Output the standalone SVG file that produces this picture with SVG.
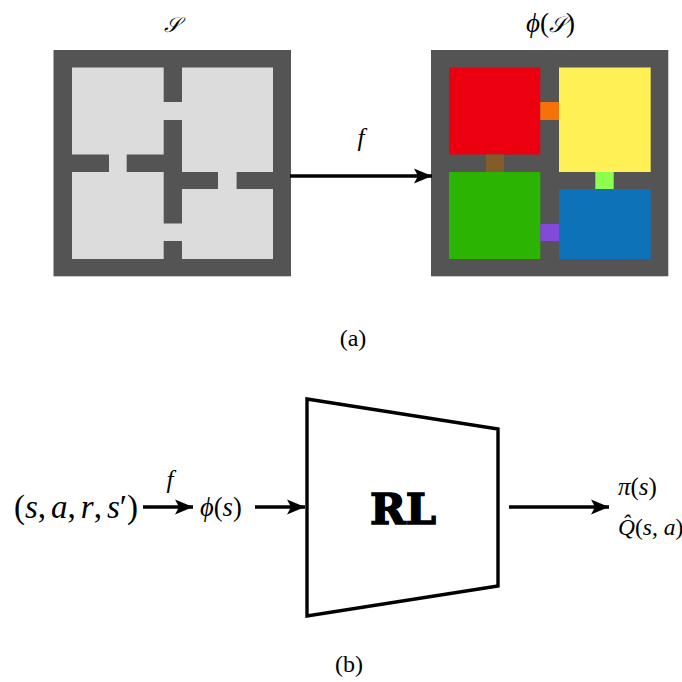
<svg xmlns="http://www.w3.org/2000/svg" width="682" height="682" viewBox="0 0 682 682">
<defs>
<marker id="ah" markerUnits="userSpaceOnUse" markerWidth="20" markerHeight="16" refX="18" refY="8" orient="auto"><path d="M0,0.5 L18,8 L0,15.5 L4,8 Z" fill="#000"/></marker>
</defs>
<style>
.w{fill:#545454}.r{fill:#dcdcdc}
.t{font-family:"Liberation Serif","Times New Roman",serif;fill:#000}
.i{font-style:italic}
.c{stroke:#000;stroke-width:3.4;fill:none}
</style>
<rect width="682" height="682" fill="#fff"/>
<g id="grid-s">
<rect class="w" x="53.5" y="50" width="237.5" height="226.3"/>
<rect class="r" x="72" y="67.5" width="201" height="191.5"/>
<rect class="w" x="163.7" y="67" width="18.3" height="35"/>
<rect class="w" x="163.7" y="120" width="18.3" height="103.5"/>
<rect class="w" x="163.7" y="241" width="18.3" height="18.5"/>
<rect class="w" x="72" y="154.5" width="37" height="17.5"/>
<rect class="w" x="126.7" y="154.5" width="37.5" height="17.5"/>
<rect class="w" x="182" y="172" width="36" height="17"/>
<rect class="w" x="236.6" y="172" width="36.9" height="17"/>
</g>
<g id="grid-phi">
<rect class="w" x="431" y="50" width="237.3" height="226.3"/>
<rect x="449" y="67.5" width="91.3" height="87" fill="#ec0010"/>
<rect x="559" y="67.5" width="91.7" height="104.5" fill="#fff056"/>
<rect x="449" y="172" width="91.3" height="87" fill="#2cb402"/>
<rect x="559" y="189" width="91.7" height="70" fill="#0e72b8"/>
<rect x="540.3" y="102" width="18.7" height="18" fill="#f5720a"/>
<rect x="486" y="154.5" width="18" height="17.5" fill="#835c2c"/>
<rect x="595.3" y="172" width="18.4" height="17" fill="#8dfd50"/>
<rect x="540.3" y="224" width="18.7" height="17" fill="#8349d8"/>
</g>
<g id="rl"><path d="M307,399 L498,429 L498,586 L307,616 Z" fill="#fff" stroke="#000" stroke-width="3.4"/>
<text x="403" y="524" font-size="43" font-weight="bold" text-anchor="middle" stroke="#000" stroke-width="1.6" style="font-family:'DejaVu Serif',serif">RL</text></g>
<g id="connectors">
<line class="c" x1="290" y1="176" x2="432" y2="176" marker-end="url(#ah)"/>
<line class="c" x1="143" y1="507" x2="193" y2="507" marker-end="url(#ah)"/>
<line class="c" x1="255" y1="507" x2="305" y2="507" marker-end="url(#ah)"/>
<line class="c" x1="509" y1="507" x2="609" y2="507" marker-end="url(#ah)"/>
</g>
<g id="labels">
<text class="t i" x="172" y="32" font-size="21" text-anchor="middle" style="font-family:'DejaVu Serif','Liberation Serif',serif">𝒮</text>
<text class="t" x="550.5" y="32" font-size="27" text-anchor="middle"><tspan class="i">ϕ</tspan>(<tspan class="i" font-size="22">𝒮</tspan>)</text>
<text class="t i" x="361" y="146" font-size="25" text-anchor="middle">f</text>
<text class="t" x="353" y="346" font-size="24" text-anchor="middle">(a)</text>
<text class="t" x="14" y="518" font-size="33">(<tspan class="i">s</tspan>,<tspan class="i" dx="5">a</tspan>,<tspan class="i" dx="5">r</tspan>,<tspan class="i" dx="5">s</tspan>′)</text>
<text class="t i" x="170" y="488" font-size="25" text-anchor="middle">f</text>
<text class="t" x="200" y="516" font-size="26.5"><tspan class="i">ϕ</tspan>(<tspan class="i">s</tspan>)</text>
<text class="t" x="618" y="495" font-size="25"><tspan class="i">π</tspan>(<tspan class="i">s</tspan>)</text>
<text class="t" x="618" y="535" font-size="23.5"><tspan class="i">Q̂</tspan>(<tspan class="i">s</tspan>, <tspan class="i">a</tspan>)</text>
<text class="t" x="349" y="672" font-size="24" text-anchor="middle">(b)</text>
</g>
</svg>
